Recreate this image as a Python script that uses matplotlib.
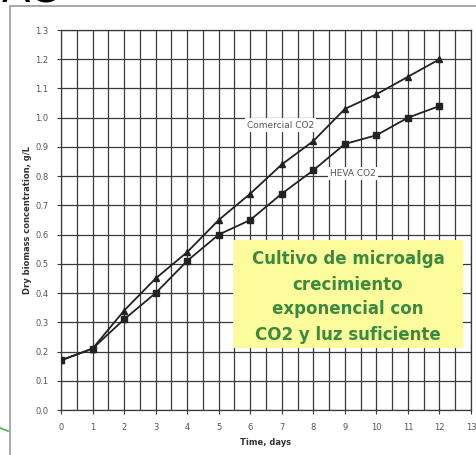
import matplotlib
matplotlib.use("Agg")
import matplotlib.pyplot as plt
from matplotlib.patches import Rectangle
from matplotlib.lines import Line2D

days = [0, 1, 2, 3, 4, 5, 6, 7, 8, 9, 10, 11, 12]
comercial = [0.17, 0.21, 0.34, 0.45, 0.54, 0.65, 0.74, 0.84, 0.92, 1.03, 1.08, 1.14, 1.20]
heva = [0.17, 0.21, 0.31, 0.40, 0.51, 0.60, 0.65, 0.74, 0.82, 0.91, 0.94, 1.00, 1.04]
x_ticks = list(range(0, 14))
y_ticks = [round(0.1 * i, 1) for i in range(14)]

W, H = 476, 455
fig = plt.figure(figsize=(W / 100, H / 100), dpi=100)

# outer slide frame + clipped title fragment
fig.add_artist(Rectangle((10 / W, -0.1), 1.0, 1 - 6 / H + 0.1, transform=fig.transFigure,
                         fill=False, ec="#9a9a9a", lw=1.2))
fig.text(2 / W, 1 + 10 / H, "AC", fontsize=30, ha="left", va="center", color="black")
fig.add_artist(Line2D([0, 8 / W], [1 - 428 / H, 1 - 431 / H], transform=fig.transFigure,
                      color="#4caf50", lw=1.2))

ax = fig.add_axes([61 / W, 1 - 410 / H, 410 / W, 380 / H])
ax.set_xlim(0, 13)
ax.set_ylim(0, 1.3)
ax.set_xticks(x_ticks)
ax.set_xticks([x + 0.5 for x in x_ticks[:-1]], minor=True)
ax.set_yticks(y_ticks)
ax.set_xticklabels([str(x) for x in x_ticks], fontsize=6, color="#555555")
ax.set_yticklabels([f"{y:.1f}" for y in y_ticks], fontsize=6, color="#555555")
ax.grid(which="both", color="#3a3a3a", lw=0.9)
ax.tick_params(which="major", length=3, color="#3a3a3a", pad=6)
ax.tick_params(which="minor", length=0)
for s in ax.spines.values():
    s.set_color("#3a3a3a")
    s.set_linewidth(0.9)

ax.plot(days, comercial, "-^", color="#222222", lw=1.3, ms=5, zorder=3)
ax.plot(days, heva, "-s", color="#222222", lw=1.3, ms=5, zorder=3)

ax.text(6.95, 0.975, "Comercial CO2", fontsize=6.5, color="#555555", ha="center", va="center",
        bbox=dict(fc="white", ec="none", pad=1.5), zorder=4)
ax.text(9.25, 0.81, "HEVA CO2", fontsize=6.5, color="#555555", ha="center", va="center",
        bbox=dict(fc="white", ec="none", pad=1.5), zorder=4)

ax.set_xlabel("Time, days", fontsize=6, fontweight="bold", color="#333333", labelpad=5)
ax.set_ylabel("Dry biomass concentration, g/L", fontsize=6, fontweight="bold",
              color="#333333", labelpad=2)

# yellow callout box
fig.add_artist(Rectangle((233 / W, 1 - 348 / H), 230 / W, 108 / H, transform=fig.transFigure,
                         fc="#fcfc9c", ec="none", zorder=5))
fig.text(348 / W, 1 - 297 / H,
         "Cultivo de microalga\ncrecimiento\nexponencial con\nCO2 y luz suficiente",
         fontsize=12, fontweight="bold", color="#3a8a3f", ha="center", va="center",
         linespacing=1.5, zorder=6)

fig.savefig("out.png", dpi=100)
